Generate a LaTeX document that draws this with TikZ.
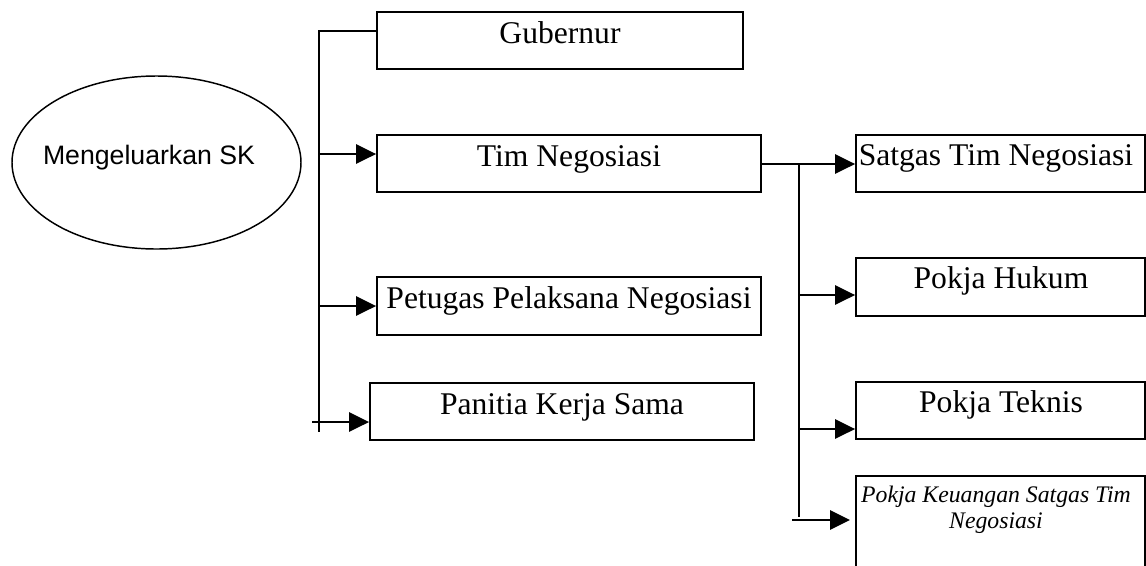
\documentclass[tikz,border=0pt]{standalone}
\usepackage{fontspec}
\setmainfont{Liberation Serif}
\newfontfamily\sansf{Liberation Sans}
\usetikzlibrary{arrows.meta,fit,shapes.geometric}

\begin{document}
\begin{tikzpicture}[x=0.75pt,y=-0.75pt,
  box/.style={draw, line width=1.4pt, inner sep=0pt},
  lbl/.style={anchor=base, inner sep=0pt, font=\fontsize{23.7}{28}\selectfont},
  link/.style={line width=1.4pt},
  arr/.style={link, -{Triangle[length=15pt,width=14.5pt]}},
]
\clip (0,0) rectangle (1146,565);

% issuing body
\node[draw, ellipse, line width=1.1pt, inner sep=0pt,
      minimum width={289*0.75pt}, minimum height={173*0.75pt}] (sk) at (156.5,162.5) {};
\node[anchor=base, inner sep=0pt, font=\sansf\fontsize{20}{24}\selectfont] (skt) at (149,164) {Mengeluarkan SK};

% left column
\node[box, fit={(377,12) (743,69)}] (gub) {};
\node[lbl] (gubt) at (560,43) {Gubernur};
\node[box, fit={(377,135) (761,192)}] (tim) {};
\node[lbl] (timt) at (569,166) {Tim Negosiasi};
\node[box, fit={(377,277) (761,335)}] (pet) {};
\node[lbl] (pett) at (569,308) {Petugas Pelaksana Negosiasi};
\node[box, fit={(370,383) (754,440)}] (pan) {};
\node[lbl] (pant) at (562,414) {Panitia Kerja Sama};

% right column
\node[box, fit={(856,135) (1145,192)}] (sat) {};
\node[lbl] (satt) at (996,165) {Satgas Tim Negosiasi};
\node[box, fit={(856,258) (1145,316)}] (huk) {};
\node[lbl] (hukt) at (1001,288) {Pokja Hukum};
\node[box, fit={(856,382) (1145,439)}] (tek) {};
\node[lbl] (tekt) at (1001,412) {Pokja Teknis};
\node[box, fit={(856,476) (1145,600)}] (keu) {};
\node[inner sep=0pt, align=center, font=\itshape\fontsize{17.8}{19.7}\selectfont] (keut) at (996,510)
  {Pokja Keuangan Satgas Tim\\Negosiasi};

% left bracket
\coordinate (lt) at (319,31);
\coordinate (lb) at (319,432);
\draw[link] (lt -| gub.west) -- (lt) -- (lb);
\coordinate (l1) at (319,154);
\draw[arr] (l1) -- (l1 -| tim.west);
\coordinate (l2) at (319,306);
\draw[arr] (l2) -- (l2 -| pet.west);
\coordinate (l3) at (312,422);
\draw[arr] (l3) -- (l3 -| pan.west);

% right bracket
\coordinate (rt) at (799,164);
\coordinate (rb) at (799,517);
\draw[arr] (rt -| tim.east) -- (rt -| sat.west);
\draw[link] (rt) -- (rb);
\coordinate (r1) at (799,295);
\draw[arr] (r1) -- (r1 -| huk.west);
\coordinate (r2) at (799,429);
\draw[arr] (r2) -- (r2 -| tek.west);
\coordinate (r3) at (792,520);
\coordinate (r3e) at (850,520);
\draw[arr] (r3) -- (r3e);
\end{tikzpicture}
\end{document}
